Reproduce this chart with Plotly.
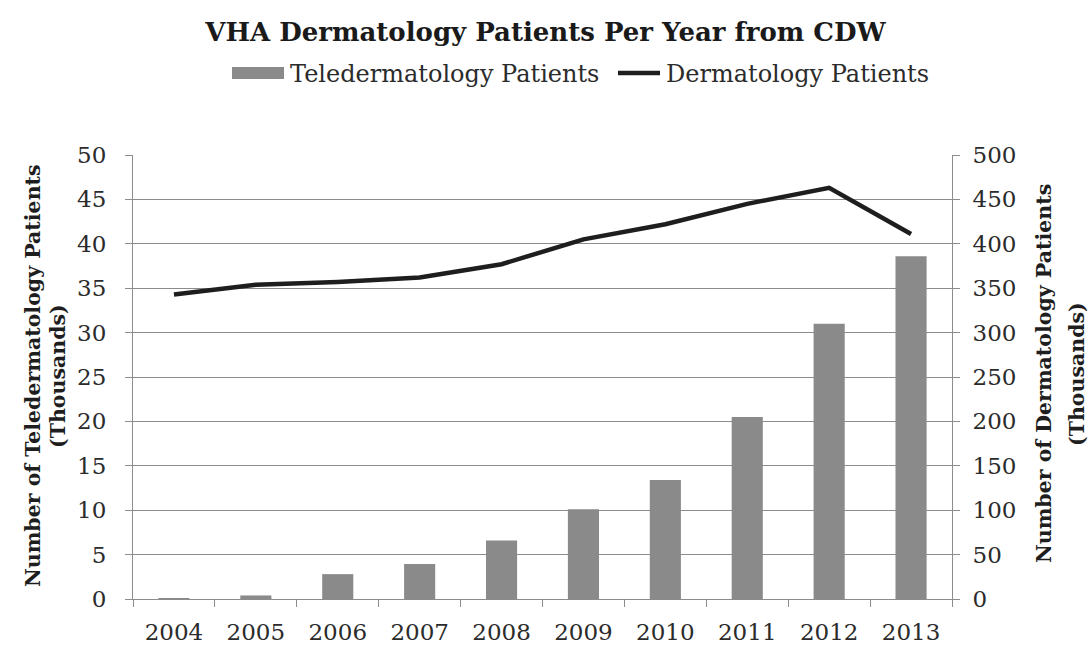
import plotly.graph_objects as go

# Yearly patient counts, in thousands
years = ["2004", "2005", "2006", "2007", "2008", "2009", "2010", "2011", "2012", "2013"]
teledermatology = [0.05, 0.4, 2.8, 3.95, 6.6, 10.1, 13.4, 20.5, 31.0, 38.6]
dermatology = [343, 354, 357, 362, 377, 405, 422, 445, 463, 411]

left_ticks = [0, 5, 10, 15, 20, 25, 30, 35, 40, 45, 50]
right_ticks = [0, 50, 100, 150, 200, 250, 300, 350, 400, 450, 500]

FONT = "DejaVu Serif"
INK = "#2b2b2b"
GRID = "#8c8c8c"
BAR = "#8a8a8a"
LINE = "#1e1e1e"

# plot box in pixels, used to place the hand-built legend and axis titles
W, H = 1091, 646
L, R, T, B = 133, 139, 155, 47
PW, PH = W - L - R, H - T - B


def px(xp):
    return (xp - L) / PW


def py(yp):
    return (H - B - yp) / PH


fig = go.Figure()
fig.add_trace(go.Bar(
    x=years, y=teledermatology, name="Teledermatology Patients",
    marker=dict(color=BAR, line=dict(width=0)),
    yaxis="y", showlegend=False,
))
fig.add_trace(go.Scatter(
    x=years, y=dermatology, name="Dermatology Patients",
    mode="lines", line=dict(color=LINE, width=4.5),
    yaxis="y2", showlegend=False,
))

# legend keys
fig.add_shape(type="rect", xref="paper", yref="paper",
              x0=px(232), x1=px(284), y0=py(79), y1=py(67),
              fillcolor=BAR, line=dict(width=0))
fig.add_shape(type="line", xref="paper", yref="paper",
              x0=px(618), x1=px(660), y0=py(73), y1=py(73),
              line=dict(color=LINE, width=4.5))
legend_font = dict(family=FONT, size=24, color=INK)
fig.add_annotation(text="Teledermatology Patients", xref="paper", yref="paper",
                   x=px(288), y=py(74), xanchor="left", yanchor="middle",
                   showarrow=False, font=legend_font)
fig.add_annotation(text="Dermatology Patients", xref="paper", yref="paper",
                   x=px(664), y=py(74), xanchor="left", yanchor="middle",
                   showarrow=False, font=legend_font)

# axis titles
title_font = dict(family=FONT, size=20.5, color="#1e1e1e")
for text, xp, yp in [
    ("<b>Number of Teledermatology Patients</b>", 33, 376),
    ("<b>(Thousands)</b>", 58, 376),
    ("<b>Number of Dermatology Patients</b>", 1044, 374),
    ("<b>(Thousands)</b>", 1077, 374),
]:
    fig.add_annotation(text=text, xref="paper", yref="paper",
                       x=px(xp), y=py(yp), xanchor="center", yanchor="middle",
                       textangle=-90, showarrow=False, font=title_font)

fig.update_layout(
    width=W, height=H,
    margin=dict(l=L, r=R, t=T, b=B, autoexpand=False),
    paper_bgcolor="white", plot_bgcolor="white",
    font=dict(family=FONT, color=INK, size=23),
    bargap=0.62,
    showlegend=False,
    title=dict(
        text="<b>VHA Dermatology Patients Per Year from CDW</b>",
        x=0.5, xanchor="center", y=0.95, yanchor="middle",
        font=dict(family=FONT, size=26, color="#1a1a1a"),
    ),
    xaxis=dict(
        type="category", showgrid=False, automargin=False,
        showline=True, linecolor=GRID, linewidth=1,
        ticks="outside", tickson="boundaries", ticklen=7, tickcolor=GRID,
        tickfont=dict(size=23), ticklabelstandoff=12,
    ),
    yaxis=dict(
        range=[0, 50], tickvals=left_ticks, automargin=False,
        showgrid=True, gridcolor=GRID, gridwidth=1,
        showline=True, linecolor=GRID, linewidth=1,
        ticks="outside", ticklen=7, tickcolor=GRID,
        tickfont=dict(size=23), ticklabelstandoff=14,
        zeroline=False,
    ),
    yaxis2=dict(
        range=[0, 500], tickvals=right_ticks, automargin=False,
        overlaying="y", side="right", showgrid=False,
        showline=True, linecolor=GRID, linewidth=1,
        ticks="outside", ticklen=7, tickcolor=GRID,
        tickfont=dict(size=23), ticklabelstandoff=8,
        zeroline=False,
    ),
)

fig.write_html("out.html")
